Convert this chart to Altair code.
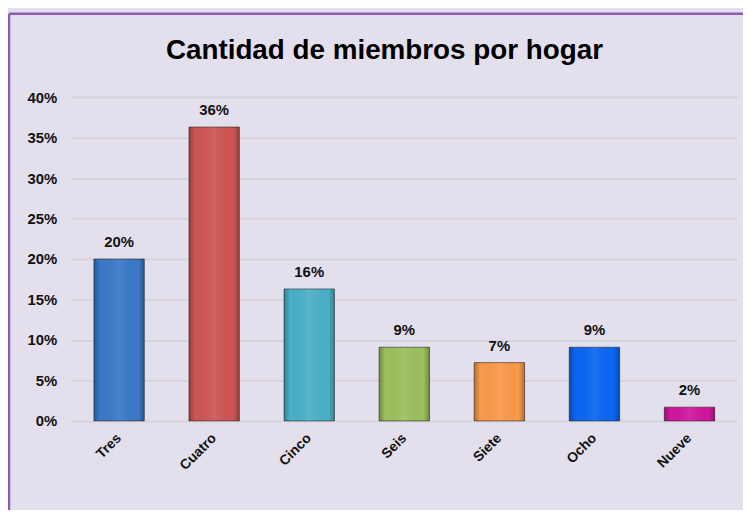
import altair as alt
import pandas as pd

categories = ["Tres", "Cuatro", "Cinco", "Seis", "Siete", "Ocho", "Nueve"]
values = [0.200, 0.363, 0.163, 0.091, 0.072, 0.091, 0.017]
labels = ["20%", "36%", "16%", "9%", "7%", "9%", "2%"]
colors = ["#3B78C8", "#CD5654", "#4BB0C8", "#9DBF5C", "#F89A4A", "#0A66F2", "#D0169E"]
title_text = "Cantidad de miembros por hogar"

df = pd.DataFrame({"cat": categories, "val": values, "lab": labels})

W, H = 670, 326
FONT = "Liberation Sans"

x = alt.X("cat:N", sort=categories, title=None,
          scale=alt.Scale(paddingInner=0.47, paddingOuter=0.235),
          axis=alt.Axis(labelAngle=315, labelFontWeight="bold", labelFontSize=14,
                        labelColor="#111111", ticks=False, domain=False,
                        labelPadding=15, labelAlign="right", labelBaseline="middle"))
y = alt.Y("val:Q", title=None,
          scale=alt.Scale(domain=[0, 0.4], nice=False),
          axis=alt.Axis(format=".0%", values=[0, 0.05, 0.1, 0.15, 0.2, 0.25, 0.3, 0.35, 0.4],
                        labelFontWeight="bold", labelFontSize=15, labelColor="#111111",
                        ticks=False, domain=False, labelPadding=15,
                        gridColor="#D6D3D9", gridWidth=2))

base = alt.Chart(df)

bars = base.mark_bar(stroke="#2a2a2a", strokeWidth=1, strokeOpacity=0.6).encode(
    x=x, y=y,
    color=alt.Color("cat:N", sort=categories,
                    scale=alt.Scale(domain=categories, range=colors), legend=None),
)

shade = base.mark_bar(
    fill=alt.Gradient(gradient="linear", x1=0, x2=1, y1=0, y2=0,
                      stops=[alt.GradientStop(color="rgba(0,0,0,0.28)", offset=0),
                             alt.GradientStop(color="rgba(0,0,0,0)", offset=0.12),
                             alt.GradientStop(color="rgba(255,255,255,0.08)", offset=0.5),
                             alt.GradientStop(color="rgba(0,0,0,0)", offset=0.88),
                             alt.GradientStop(color="rgba(0,0,0,0.28)", offset=1)])
).encode(x=x, y=y)

text = base.mark_text(fontWeight="bold", fontSize=15, font=FONT, color="#111111",
                      baseline="bottom", dy=-9).encode(
    x=alt.X("cat:N", sort=categories), y="val:Q", text="lab:N")

one = pd.DataFrame({"t": [title_text]})
title_mark = alt.Chart(one).mark_text(fontWeight="bold", fontSize=28, font=FONT,
                                      color="#000000", baseline="middle", align="center").encode(
    x=alt.value(W / 2 - 20), y=alt.value(-46), text="t:N")

top_border = alt.Chart(one).mark_rule(color="#8A5CB8", strokeWidth=2.5).encode(
    x=alt.value(-63), x2=alt.value(W + 20), y=alt.value(-84))
left_border = alt.Chart(one).mark_rule(color="#8A5CB8", strokeWidth=2.5).encode(
    x=alt.value(-63), y=alt.value(-84), y2=alt.value(H + 110))

chart = alt.layer(bars, shade, text, title_mark, top_border, left_border).properties(
    width=W, height=H,
    padding={"left": 64, "top": 88, "right": 6, "bottom": 88},
    autosize=alt.AutoSizeParams(type="none"),
    background="#E4DFEC",
).configure_view(stroke=None).configure_axis(labelFont=FONT)

chart.save("out.html", embed_options={"renderer": "svg", "actions": False})
